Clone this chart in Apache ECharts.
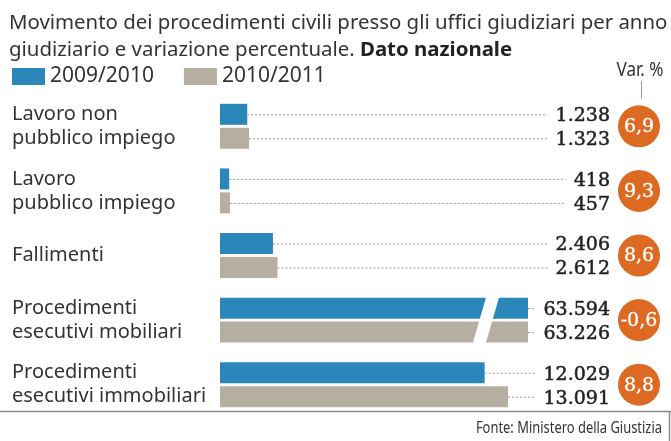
<!DOCTYPE html>
<html>
<head>
<meta charset="utf-8">
<style>
  html, body { margin: 0; padding: 0; background: #fff; }
  #chart { width: 671px; height: 441px; }
</style>
<script src="https://cdn.jsdelivr.net/npm/echarts@6/dist/echarts.min.js"></script>
</head>
<body>
<div id="chart"></div>
<script>
// Data
const categories = [
    'Lavoro non\npubblico impiego',
    'Lavoro\npubblico impiego',
    'Fallimenti',
    'Procedimenti\nesecutivi mobiliari',
    'Procedimenti\nesecutivi immobiliari'
];
const seriesNames = ['2009/2010', '2010/2011'];
const values2010 = [1238, 418, 2406, 63594, 12029];
const values2011 = [1323, 457, 2612, 63226, 13091];
const variation = [6.9, 9.3, 8.6, -0.6, 8.8];

// axis is cut here, longer bars get the break slash
const axisMax = 14000;

const BLUE = '#2b87ba';
const GREY = '#b7aea2';
const ORANGE = '#dc6a22';
const TEXT = '#333333';
const valueFont = '19px "DejaVu Serif"';
const circleFont = '19px "DejaVu Serif"';

const measureCtx = document.createElement('canvas').getContext('2d');
function textWidth(txt, font) {
    measureCtx.font = font;
    return measureCtx.measureText(txt).width;
}

// 63594 -> 63.594
function fmtNum(v) {
    return String(v).replace(/\B(?=(\d{3})+(?!\d))/g, '.');
}
function fmtVar(v) {
    return v.toFixed(1).replace('.', ',');
}

// leaders, value labels, circles and the break slash
function renderItem(params, api) {
    const i = params.dataIndex;
    const center = api.coord([0, i])[1];
    const xEnd = api.coord([axisMax, i])[0];
    const labelRight = api.getWidth() - 61;
    const children = [];

    [values2010, values2011].forEach((vals, k) => {
        const v = vals[i];
        const y = center + (k === 0 ? -12 : 12);
        const barEnd = api.coord([Math.min(v, axisMax), i])[0];
        const txt = fmtNum(v);
        const w = textWidth(txt, valueFont);
        children.push({
            type: 'line',
            shape: { x1: barEnd, y1: y + 0.5, x2: labelRight - w - 8, y2: y + 0.5 },
            style: { stroke: '#999', lineWidth: 1, lineDash: [2, 2] }
        });
        children.push({
            type: 'text',
            x: labelRight,
            y: y + 2,
            style: {
                text: txt, align: 'right', verticalAlign: 'middle', font: valueFont,
                fill: '#222', stroke: '#222', lineWidth: 0.5
            }
        });
    });

    const cx = labelRight + 29;
    children.push({
        type: 'circle',
        shape: { cx: cx, cy: center, r: 21 },
        style: { fill: ORANGE }
    });
    children.push({
        type: 'text',
        x: cx,
        y: center + 1,
        style: {
            text: fmtVar(variation[i]), align: 'center', verticalAlign: 'middle', font: circleFont,
            fill: '#fff', stroke: '#fff', lineWidth: 0.3
        }
    });

    if (Math.max(values2010[i], values2011[i]) > axisMax) {
        const top = center - 26;
        const bottom = center + 26;
        children.push({
            type: 'polygon',
            shape: { points: [[xEnd - 41, top], [xEnd - 28, top], [xEnd - 43, bottom], [xEnd - 56, bottom]] },
            style: { fill: '#fff' }
        });
    }
    return { type: 'group', children: children };
}

const chart = echarts.init(document.getElementById('chart'));

const option = {
    backgroundColor: '#fff',
    animation: false,
    title: {
        text: 'Movimento dei procedimenti civili presso gli uffici giudiziari per anno\ngiudiziario e variazione percentuale. {b|Dato nazionale}',
        left: 9,
        top: 10,
        padding: 0,
        textStyle: {
            fontFamily: 'Noto Sans',
            fontSize: 20.4,
            fontWeight: 'normal',
            lineHeight: 27,
            color: TEXT,
            rich: {
                b: { fontFamily: 'Noto Sans', fontSize: 20.4, fontWeight: 'bold', color: '#222', lineHeight: 27 }
            }
        }
    },
    legend: {
        data: seriesNames,
        left: 12,
        top: 66,
        padding: 0,
        icon: 'rect',
        itemWidth: 33,
        itemHeight: 17,
        itemGap: 30,
        textStyle: { fontFamily: 'Noto Sans', fontSize: 21, color: TEXT }
    },
    grid: { left: 220, right: 143, top: 94, bottom: 24 },
    xAxis: {
        type: 'value',
        min: 0,
        max: axisMax,
        show: false
    },
    yAxis: {
        type: 'category',
        data: categories,
        inverse: true,
        axisLine: { show: false },
        axisTick: { show: false },
        splitLine: { show: false },
        axisLabel: {
            align: 'left',
            margin: 208,
            fontFamily: 'Noto Sans',
            fontSize: 20,
            lineHeight: 24,
            color: TEXT
        }
    },
    series: [
        {
            name: seriesNames[0],
            type: 'bar',
            data: values2010,
            barWidth: 21,
            barGap: '14%',
            clip: true,
            itemStyle: { color: BLUE }
        },
        {
            name: seriesNames[1],
            type: 'bar',
            data: values2011,
            barWidth: 21,
            clip: true,
            itemStyle: { color: GREY }
        },
        {
            type: 'custom',
            z: 5,
            clip: false,
            renderItem: renderItem,
            encode: { x: 0, y: 1 },
            data: categories.map((c, i) => [0, i])
        }
    ],
    graphic: [
        {
            type: 'text',
            x: 640,
            y: 71,
            scaleX: 0.9,
            style: { text: 'Var. %', font: '19px "Noto Sans"', fill: TEXT, align: 'center', verticalAlign: 'middle' }
        },
        {
            type: 'line',
            shape: { x1: 641.5, y1: 81, x2: 641.5, y2: 99 },
            style: { stroke: '#9a9a9a', lineWidth: 1 }
        },
        {
            type: 'line',
            shape: { x1: 0, y1: 411.5, x2: 671, y2: 411.5 },
            style: { stroke: '#8a8a8a', lineWidth: 1.5 }
        },
        {
            type: 'line',
            shape: { x1: 669.5, y1: 411.5, x2: 669.5, y2: 441 },
            style: { stroke: '#8a8a8a', lineWidth: 1.5 }
        },
        {
            type: 'text',
            x: 662,
            y: 428,
            scaleX: 0.76,
            style: { text: 'Fonte: Ministero della Giustizia', font: '17px "Noto Sans"', fill: TEXT, align: 'right', verticalAlign: 'middle' }
        }
    ]
};

chart.setOption(option);
</script>
</body>
</html>
